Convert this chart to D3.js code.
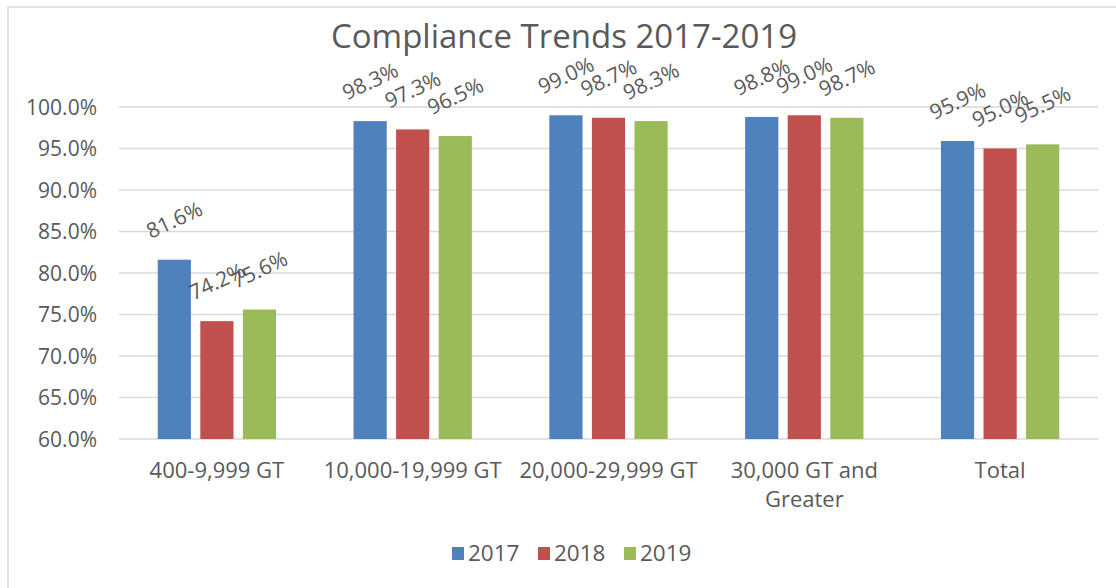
<!DOCTYPE html>
<html>
<head>
<meta charset="utf-8">
<script src="https://cdn.jsdelivr.net/npm/d3@7"></script>
<style>
  body { margin: 0; background: #fff; }
  text { font-family: "Open Sans", sans-serif; fill: #595959; }
</style>
</head>
<body>
<div id="chart"></div>
<script>
const categories = ["400-9,999 GT", "10,000-19,999 GT", "20,000-29,999 GT", "30,000 GT and Greater", "Total"];
const series = ["2017", "2018", "2019"];
const values2017 = [81.6, 98.3, 99.0, 98.8, 95.9];
const values2018 = [74.2, 97.3, 98.7, 99.0, 95.0];
const values2019 = [75.6, 96.5, 98.3, 98.7, 95.5];
const yTicks = [60, 65, 70, 75, 80, 85, 90, 95, 100];
const colors = ["#4f81bd", "#c0504d", "#9bbb59"];

const width = 1116, height = 588;
const margin = { left: 119, right: 18, top: 107, bottom: 149 };

const svg = d3.select("#chart").append("svg")
  .attr("width", width).attr("height", height);

// chart frame (runs off the right and bottom edge)
svg.append("rect")
  .attr("x", 8).attr("y", 7)
  .attr("width", 1130).attr("height", 600)
  .attr("fill", "none").attr("stroke", "#d9d9d9").attr("stroke-width", 1.5);

const rows = categories.map((c, i) => ({
  category: c,
  values: [values2017[i], values2018[i], values2019[i]]
}));

const x0 = d3.scaleBand().domain(categories)
  .range([margin.left, width - margin.right]).padding(0);
const x1 = d3.scaleBand().domain(series)
  .range([0, x0.bandwidth()]).paddingInner(0.22).paddingOuter(0.91);
const y = d3.scaleLinear().domain([60, 100])
  .range([height - margin.bottom, margin.top]);

// gridlines
svg.append("g")
  .selectAll("line")
  .data(yTicks)
  .enter()
  .append("line")
  .attr("x1", margin.left).attr("x2", width - margin.right)
  .attr("y1", d => y(d)).attr("y2", d => y(d))
  .attr("stroke", "#d9d9d9").attr("stroke-width", 1.5);

// y axis labels
svg.append("g")
  .selectAll("text")
  .data(yTicks)
  .enter()
  .append("text")
  .attr("x", 97)
  .attr("y", d => y(d))
  .attr("dy", "0.36em")
  .attr("text-anchor", "end")
  .style("font-size", "21px")
  .text(d => d3.format(".1f")(d) + "%");

// bars
const groups = svg.append("g")
  .selectAll("g")
  .data(rows)
  .enter()
  .append("g")
  .attr("transform", d => "translate(" + x0(d.category) + ",0)");

groups.selectAll("rect")
  .data(d => d.values.map((v, i) => ({ key: series[i], value: v, i: i })))
  .enter()
  .append("rect")
  .attr("x", d => x1(d.key))
  .attr("width", x1.bandwidth())
  .attr("y", d => y(d.value))
  .attr("height", d => y(60) - y(d.value))
  .attr("fill", d => colors[d.i]);

// rotated value labels
groups.selectAll("text")
  .data(d => d.values.map((v, i) => ({ key: series[i], value: v })))
  .enter()
  .append("text")
  .attr("transform", d =>
    "translate(" + (x1(d.key) + x1.bandwidth() / 2) + "," + (y(d.value) - 40) + ") rotate(-25)")
  .attr("text-anchor", "middle")
  .attr("dy", "0.36em")
  .style("font-size", "21px")
  .text(d => d.value.toFixed(1) + "%");

// category labels, wrapped like the original
const lines = { "30,000 GT and Greater": ["30,000 GT and", "Greater"] };
svg.append("g")
  .selectAll("text")
  .data(categories)
  .enter()
  .append("text")
  .attr("x", d => x0(d) + x0.bandwidth() / 2)
  .attr("y", 478)
  .attr("text-anchor", "middle")
  .style("font-size", "22px")
  .each(function (d) {
    const parts = lines[d] || [d];
    d3.select(this).selectAll("tspan")
      .data(parts)
      .enter()
      .append("tspan")
      .attr("x", x0(d) + x0.bandwidth() / 2)
      .attr("dy", (p, i) => i === 0 ? 0 : 29)
      .text(p => p);
  });

// title
svg.append("text")
  .attr("x", 564).attr("y", 48)
  .attr("text-anchor", "middle")
  .style("font-size", "33px")
  .text("Compliance Trends 2017-2019");

// legend
const legendX = [452, 538, 624];
const legend = svg.append("g")
  .selectAll("g")
  .data(series)
  .enter()
  .append("g")
  .attr("transform", (d, i) => "translate(" + legendX[i] + ",547)");

legend.append("rect")
  .attr("width", 12).attr("height", 13)
  .attr("fill", (d, i) => colors[i]);

legend.append("text")
  .attr("x", 16).attr("y", 14)
  .style("font-size", "22.5px")
  .text(d => d);
</script>
</body>
</html>
